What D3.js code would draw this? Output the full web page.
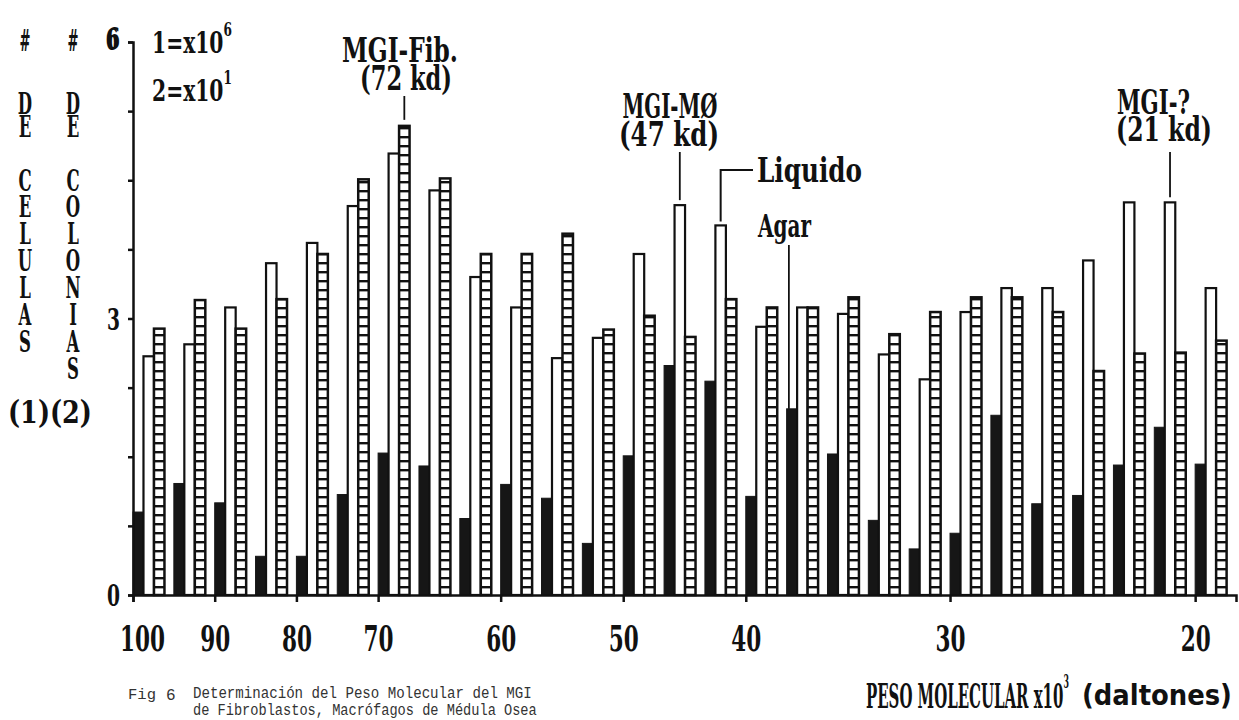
<!DOCTYPE html>
<html>
<head>
<meta charset="utf-8">
<script src="https://cdn.jsdelivr.net/npm/d3@7"></script>
<style>
  body { margin: 0; background: #fff; }
  svg { display: block; }
</style>
</head>
<body>
<div id="chart"></div>
<script>
// fracciones eluidas (27) y actividad por fraccion
const fractions = d3.range(1, 28);
const agar    = [0.90,1.21,1.00,0.42,0.42,1.09,1.54,1.40,0.83,1.20,1.05,0.56,1.51,2.49,2.32,1.07,2.02,1.53,0.81,0.50,0.67,1.95,0.99,1.08,1.41,1.82,1.42];
const liquido = [2.59,2.72,3.12,3.60,3.82,4.22,4.79,4.39,3.45,3.12,2.57,2.79,3.70,4.23,4.01,2.91,3.12,3.05,2.61,2.34,3.07,3.33,3.33,3.63,4.26,4.26,3.33];
const cuadros = [2.89,3.20,2.89,3.21,3.70,4.51,5.09,4.52,3.70,3.70,3.92,2.88,3.03,2.80,3.21,3.12,3.12,3.23,2.83,3.07,3.23,3.23,3.07,2.43,2.62,2.63,2.76];

// peso molecular (x10^3) y fraccion donde cae cada marca
const mwLabels   = [100, 90, 80, 70, 60, 50, 40, 30, 20];
const mwFraction = [0, 2, 4, 6, 9, 12, 15, 20, 26];

const yTicks  = d3.range(0, 6.01, 0.75);
const yLabels = [0, 3, 6];

const width = 1239, height = 720;
const ink = "#111";
const dot = "DejaVu Serif";

const svg = d3.select("#chart").append("svg")
  .attr("width", width).attr("height", height)
  .style("background", "#fff");

const x = d3.scaleLinear().domain([0, fractions.length]).range([133, 1236]);
const y = d3.scaleLinear().domain([0, 6]).range([595, 42]);

const keys = ["agar", "liquido", "cuadros"];
const step = x(1) - x(0);
const sub = d3.scaleBand().domain(keys).range([0, step * 0.77]);

const rows = fractions.map((f, i) => ({ f, i, agar: agar[i], liquido: liquido[i], cuadros: cuadros[i] }));

// ladder fill for third series
const defs = svg.append("defs");
const pat = defs.append("pattern")
  .attr("id", "ladder")
  .attr("patternUnits", "userSpaceOnUse")
  .attr("x", 0).attr("y", y(0))
  .attr("width", 20).attr("height", 9);
pat.append("rect").attr("width", 20).attr("height", 9).attr("fill", "#fff");
pat.append("rect").attr("width", 20).attr("height", 2.4).attr("fill", ink);

// squeeze a text horizontally to a given width (narrow printer type)
function squeeze(t, px, py, w) {
  const sx = w ? w / t.node().getComputedTextLength() : 1;
  t.attr("transform", `translate(${px},${py}) scale(${sx},1)`);
  return t;
}

function label(g, txt, px, py, opt = {}) {
  const t = g.append("text")
    .attr("dominant-baseline", "central")
    .attr("text-anchor", opt.anchor || "start")
    .attr("font-family", opt.family || dot)
    .attr("font-weight", opt.weight || "bold")
    .attr("font-size", opt.size || 32)
    .attr("fill", opt.fill || ink)
    .text(txt);
  return squeeze(t, px, py, opt.width);
}

// text with a raised exponent, kept in one element
function power(g, base, exp, px, py, w, size, supSize) {
  const t = g.append("text")
    .attr("dominant-baseline", "central")
    .attr("font-family", dot).attr("font-weight", "bold")
    .attr("font-size", size).attr("fill", ink);
  t.append("tspan").text(base);
  t.append("tspan").text(exp).attr("font-size", supSize).attr("dy", -size * 0.4);
  return squeeze(t, px, py, w);
}

// stacked upright letters, one element per word
function stack(g, word, px, top, gap) {
  return g.append("text")
    .attr("transform", `translate(${px},${top}) scale(0.55,1)`)
    .style("writing-mode", "vertical-rl")
    .style("text-orientation", "upright")
    .attr("letter-spacing", gap - 35)
    .attr("font-family", dot).attr("font-weight", "bold")
    .attr("font-size", 30).attr("fill", ink)
    .text(word);
}

// bars
const groups = svg.append("g").selectAll("g")
  .data(rows)
  .join("g")
  .attr("transform", d => `translate(${x(d.i)},0)`);

groups.append("rect")
  .attr("x", sub("agar")).attr("width", sub.bandwidth())
  .attr("y", d => y(d.agar)).attr("height", d => y(0) - y(d.agar))
  .attr("fill", "#161616").attr("stroke", "#161616").attr("stroke-width", 1);

groups.append("rect")
  .attr("x", sub("liquido")).attr("width", sub.bandwidth())
  .attr("y", d => y(d.liquido)).attr("height", d => y(0) - y(d.liquido))
  .attr("fill", "#fff").attr("stroke", ink).attr("stroke-width", 2.2);

groups.append("rect")
  .attr("x", sub("cuadros")).attr("width", sub.bandwidth())
  .attr("y", d => y(d.cuadros)).attr("height", d => y(0) - y(d.cuadros))
  .attr("fill", "url(#ladder)").attr("stroke", ink).attr("stroke-width", 2.5);

// axes
const yAxis = d3.axisLeft(y)
  .tickValues(yTicks)
  .tickSize(5).tickSizeOuter(5).tickPadding(9)
  .tickFormat(d => yLabels.includes(d) ? d : "");

svg.append("g")
  .attr("transform", `translate(${x(0)},0)`)
  .call(yAxis)
  .call(g => g.select(".domain").attr("stroke", ink).attr("stroke-width", 2.5))
  .call(g => g.selectAll(".tick line").attr("stroke", ink).attr("stroke-width", 2.5))
  .call(g => g.selectAll(".tick text")
    .attr("font-family", dot).attr("font-weight", "bold").attr("font-size", 30)
    .attr("fill", ink)
    .attr("x", 0).attr("dy", d => d === 6 ? "0.2em" : "0.36em")
    .each(function() { if (this.textContent) squeeze(d3.select(this), -13, 0, 13); }));

const xAxis = d3.axisBottom(x)
  .tickValues(mwFraction)
  .tickSize(7).tickSizeOuter(7)
  .tickFormat((d, i) => mwLabels[i]);

svg.append("g")
  .attr("transform", `translate(0,${y(0)})`)
  .call(xAxis)
  .call(g => g.select(".domain").attr("stroke", ink).attr("stroke-width", 2.5))
  .call(g => g.selectAll(".tick line").attr("stroke", ink).attr("stroke-width", 2.5))
  .call(g => g.selectAll(".tick text")
    .attr("font-family", dot).attr("font-weight", "bold").attr("font-size", 36)
    .attr("fill", ink)
    .attr("y", 0).attr("dy", 0)
    .each(function(d) {
      squeeze(d3.select(this), d === 0 ? 9 : 0, 56, this.textContent.length * 15);
    }));

// left titles
const left = svg.append("g");
const colX = [25, 73];
label(left, "#", colX[0], 40, { anchor: "middle", width: 11, size: 30 });
label(left, "#", colX[1], 40, { anchor: "middle", width: 11, size: 30 });
label(left, "6", 112, 40, { anchor: "middle", width: 13, size: 30 });
power(left, "1=x10", "6", 152, 42, 80, 30, 18);
power(left, "2=x10", "1", 152, 90, 80, 30, 18);

stack(left, "DE", colX[0], 85, 23);
stack(left, "DE", colX[1], 85, 23);
stack(left, "CELULAS", colX[0], 162, 26);
stack(left, "COLONIAS", colX[1], 162, 26);
label(left, "(1)(2)", 8, 412, { width: 84, size: 32 });

// annotations
const ann = svg.append("g");
const cx = (i, k) => x(i) + sub(k) + sub.bandwidth() / 2;
const line = (x1, y1, x2, y2) => ann.append("path")
  .attr("d", `M${x1},${y1}L${x2},${y2}`)
  .attr("stroke", ink).attr("stroke-width", 1.8).attr("fill", "none");

label(ann, "MGI-Fib.", 400, 50, { anchor: "middle", width: 116, size: 34 });
label(ann, "(72 kd)", 406, 78, { anchor: "middle", width: 92, size: 34 });
line(cx(6, "cuadros"), 96, cx(6, "cuadros"), y(cuadros[6]) - 6);

label(ann, "MGI-MØ", 670, 106, { anchor: "middle", width: 95, size: 34 });
label(ann, "(47 kd)", 669, 134, { anchor: "middle", width: 100, size: 34 });
line(cx(13, "liquido"), 152, cx(13, "liquido"), y(liquido[13]) - 5);

label(ann, "Liquido", 757, 170, { width: 105, size: 34 });
ann.append("path")
  .attr("d", `M753,170H${cx(14, "liquido")}V${y(liquido[14]) - 4}`)
  .attr("stroke", ink).attr("stroke-width", 2).attr("fill", "none");

label(ann, "Agar", 758, 226, { width: 53, size: 32 });
line(cx(16, "agar") - 3, 245, cx(16, "agar") - 3, y(agar[16]));

label(ann, "MGI-?", 1117, 102, { width: 73, size: 34 });
label(ann, "(21 kd)", 1116, 129, { width: 96, size: 34 });
line(cx(25, "liquido"), 152, cx(25, "liquido"), y(liquido[25]) - 5);

// x title
power(svg, "PESO MOLECULAR x10", "3", 866, 695, 203, 34, 18);
label(svg, "(daltones)", 1082, 695, { family: "DejaVu Sans", width: 150, size: 28 });

// caption
const cap = svg.append("g");
const capFont = { family: "Liberation Mono", weight: "normal", fill: "#333" };
label(cap, "Fig", 128, 695, { ...capFont, size: 15, width: 28 });
label(cap, "6", 166, 696, { ...capFont, size: 16 });
label(cap, "Determinación del Peso Molecular del MGI", 193, 694, { ...capFont, size: 16, width: 339 });
label(cap, "de Fibroblastos, Macrófagos de Médula Osea", 193, 711, { ...capFont, size: 16, width: 344 });
</script>
</body>
</html>
